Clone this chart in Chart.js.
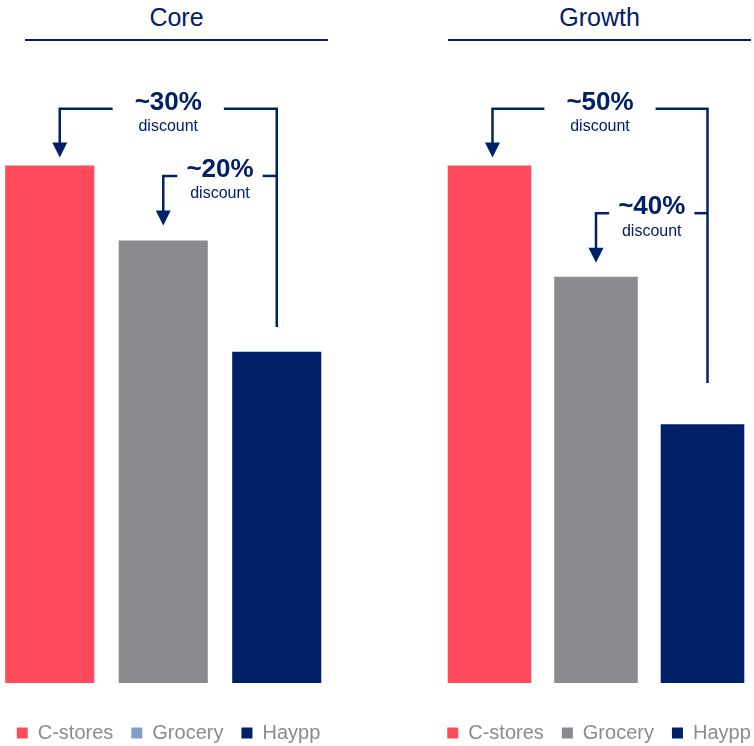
<!DOCTYPE html>
<html>
<head>
<meta charset="utf-8">
<script src="https://cdn.jsdelivr.net/npm/chart.js@4.4.1/dist/chart.umd.min.js"></script>
<style>
  html, body { margin: 0; padding: 0; background: #fff; overflow: hidden; }
  body { width: 754px; height: 746px; position: relative; font-family: "Liberation Sans", Arial, sans-serif; }
  .panel-title {
    position: absolute; top: 0; width: 303px; text-align: center;
    font-size: 25px; line-height: 30px; padding-top: 2px; padding-bottom: 7px;
    color: #002068; border-bottom: 2.5px solid #002068;
  }
  .chart-box { position: absolute; top: 0; }
</style>
</head>
<body>
<div class="panel-title" style="left:25px">Core</div>
<div class="panel-title" style="left:448px">Growth</div>
<div class="chart-box" id="coreBox"><canvas id="coreChart"></canvas></div>
<div class="chart-box" id="growthBox"><canvas id="growthChart"></canvas></div>
<script>
const categories = ["C-stores", "Grocery", "Haypp"];
const coreValues = [100, 85.5, 64];
const growthValues = [100, 78.5, 50];
const barColors = ["#FF4B5C", "#8A8B8F", "#002068"];
const coreLegendColors = ["#FF4B5C", "#7FA0C8", "#002068"];
const growthLegendColors = ["#FF4B5C", "#8A8B8F", "#002068"];

// discount brackets: levels / line ends in value units
const coreNotes = [
  { from: 0, to: 2, level: 111, end: 68.8, pct: "~30%", gap: 22, tipGap: 8, fromDx: 10, toDx: 0 },
  { from: 1, to: 2, level: 98, end: null, pct: "~20%", gap: 9, tipGap: 15, fromDx: 0, toDx: 0 },
];
const growthNotes = [
  { from: 0, to: 2, level: 111, end: 58, pct: "~50%", gap: 22, tipGap: 8, fromDx: 3, toDx: 5 },
  { from: 1, to: 2, level: 90.8, end: null, pct: "~40%", gap: 9, tipGap: 14, fromDx: 0, toDx: 5 },
];

const NAVY = "#002068";
const FONT = '"Liberation Sans", Arial, sans-serif';

const bracketNotes = {
  id: "bracketNotes",
  afterDatasetsDraw(chart, args, opts) {
    const notes = opts.notes || [];
    const bars = chart.getDatasetMeta(0).data;
    const yScale = chart.scales.y;
    const ctx = chart.ctx;
    ctx.save();
    ctx.strokeStyle = NAVY;
    ctx.fillStyle = NAVY;
    ctx.lineWidth = 2.5;
    ctx.lineJoin = "miter";
    notes.forEach((n) => {
      const x1 = bars[n.from].x + n.fromDx;
      const x2 = bars[n.to].x + n.toDx;
      const ly = yScale.getPixelForValue(n.level);
      const tip = bars[n.from].y - n.tipGap;
      const cx = (x1 + x2) / 2;
      ctx.font = "bold 26px " + FONT;
      const w = ctx.measureText(n.pct).width;

      ctx.beginPath();
      ctx.moveTo(x1, tip - 14);
      ctx.lineTo(x1, ly);
      ctx.lineTo(cx - w / 2 - n.gap, ly);
      ctx.stroke();

      ctx.beginPath();
      ctx.moveTo(cx + w / 2 + n.gap, ly);
      ctx.lineTo(x2, ly);
      if (n.end !== null) ctx.lineTo(x2, yScale.getPixelForValue(n.end));
      ctx.stroke();

      ctx.beginPath();
      ctx.moveTo(x1 - 7.5, tip - 15);
      ctx.lineTo(x1 + 7.5, tip - 15);
      ctx.lineTo(x1, tip);
      ctx.closePath();
      ctx.fill();

      ctx.textAlign = "center";
      ctx.textBaseline = "middle";
      ctx.fillText(n.pct, cx, ly - 6);
      ctx.font = "16px " + FONT;
      ctx.fillText("discount", cx, ly + 18);
    });
    ctx.restore();
  },
};

const makeChart = function (id, boxId, values, legendColors, notes, box) {
  const wrap = document.getElementById(boxId);
  wrap.style.left = box.left + "px";
  const canvas = document.getElementById(id);
  canvas.width = box.width;
  canvas.height = 753;
  canvas.style.width = box.width + "px";
  canvas.style.height = "753px";

  new Chart(canvas.getContext("2d"), {
    type: "bar",
    data: {
      labels: categories,
      datasets: [
        {
          data: values,
          backgroundColor: barColors,
          borderWidth: 0,
          barPercentage: 0.785,
          categoryPercentage: 1,
        },
      ],
    },
    options: {
      responsive: false,
      animation: false,
      events: [],
      scales: {
        x: {
          display: true,
          grid: { display: false },
          border: { display: false },
          ticks: { display: false },
          afterFit: (s) => { s.height = 22; },
        },
        y: {
          display: true,
          position: "left",
          min: 0,
          max: 132,
          grid: { display: false },
          border: { display: false },
          ticks: { display: false },
          afterFit: (s) => { s.width = box.padLeft; },
        },
        yr: {
          type: "linear",
          display: true,
          position: "right",
          grid: { display: false },
          border: { display: false },
          ticks: { display: false },
          afterFit: (s) => { s.width = box.padRight; },
        },
      },
      plugins: {
        tooltip: { enabled: false },
        legend: {
          display: true,
          position: "bottom",
          labels: {
            boxWidth: 11,
            boxHeight: 11,
            padding: 18,
            color: "#8A8B8F",
            font: { family: FONT, size: 20 },
            generateLabels: () =>
              categories.map((c, i) => ({
                text: c,
                fillStyle: legendColors[i],
                strokeStyle: legendColors[i],
                lineWidth: 0,
                fontColor: "#8A8B8F",
                index: i,
              })),
          },
        },
        bracketNotes: { notes: notes },
      },
    },
    plugins: [bracketNotes],
  });
};

makeChart("coreChart", "coreBox", coreValues, coreLegendColors, coreNotes,
  { left: -7, width: 351, padLeft: 0, padRight: 10.5 });
makeChart("growthChart", "growthBox", growthValues, growthLegendColors, growthNotes,
  { left: 429, width: 340, padLeft: 7.25, padRight: 13.25 });
</script>
</body>
</html>
